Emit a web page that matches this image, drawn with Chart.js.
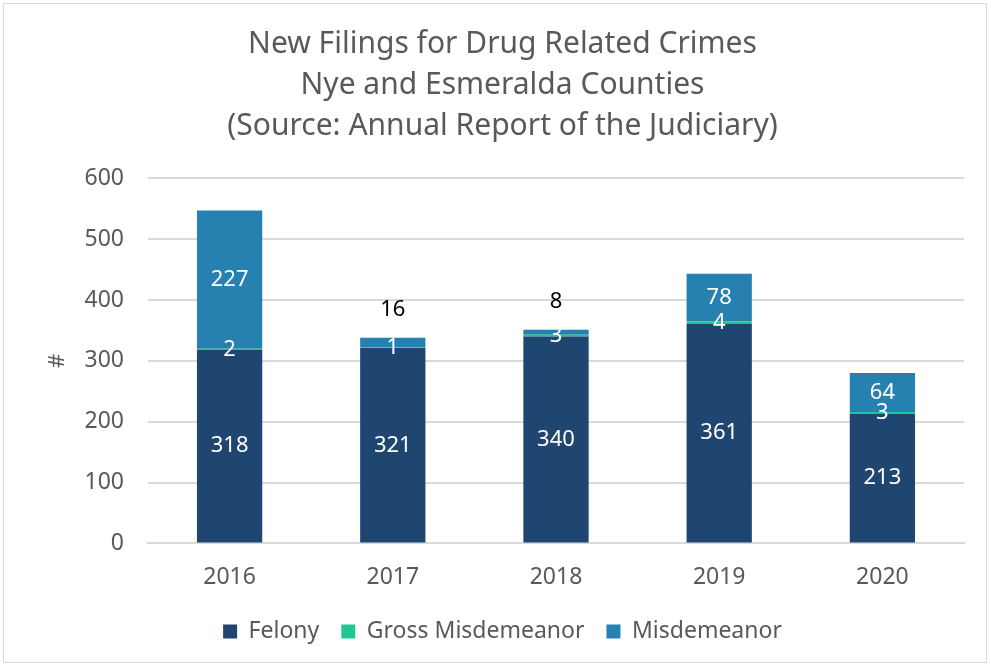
<!DOCTYPE html>
<html>
<head>
<meta charset="utf-8">
<script src="https://cdn.jsdelivr.net/npm/chart.js@4.4.0/dist/chart.umd.min.js"></script>
<style>
  html, body { margin: 0; padding: 0; background: #ffffff; }
  #wrap { position: absolute; left: 3px; top: 3px; width: 984px; height: 660px; border: 1px solid #d9d9d9; box-sizing: border-box; background: #fff; }
  canvas { display: block; }
</style>
</head>
<body>
<div id="wrap"><canvas id="c"></canvas></div>
<script>
const categories = ["2016", "2017", "2018", "2019", "2020"];
const felony = [318, 321, 340, 361, 213];
const grossMisdemeanor = [2, 1, 3, 4, 3];
const misdemeanor = [227, 16, 8, 78, 64];
const yTicks = [0, 100, 200, 300, 400, 500, 600];
const titleLines = ["New Filings for Drug Related Crimes", "Nye and Esmeralda Counties", "(Source: Annual Report of the Judiciary)"];

const FONT = "'Noto Sans', 'Open Sans', sans-serif";

const labelPlugin = {
  id: 'segLabels',
  afterDatasetsDraw(chart) {
    const ctx = chart.ctx;
    ctx.save();
    ctx.font = "22px " + FONT;
    ctx.textAlign = 'center';
    ctx.textBaseline = 'middle';
    chart.data.datasets.forEach((ds, di) => {
      const meta = chart.getDatasetMeta(di);
      meta.data.forEach((bar, i) => {
        const v = ds.data[i];
        const top = Math.min(bar.y, bar.base);
        const h = Math.abs(bar.base - bar.y);
        let x = bar.x, y = (bar.y + bar.base) / 2, color = '#ffffff';
        if (di === 2 && h < 24) {
          y = top - 28;
          color = '#000000';
        }
        ctx.fillStyle = color;
        ctx.fillText(String(v), x, y);
      });
    });
    ctx.restore();
  }
};

new Chart(document.getElementById('c'), {
  type: 'bar',
  data: {
    labels: categories,
    datasets: [
      { label: 'Felony', data: felony, backgroundColor: '#1f4670', borderWidth: 0 },
      { label: 'Gross Misdemeanor', data: grossMisdemeanor, backgroundColor: '#21c693', borderWidth: 0 },
      { label: 'Misdemeanor', data: misdemeanor, backgroundColor: '#2680b0', borderWidth: 0 }
    ]
  },
  options: {
    responsive: true,
    maintainAspectRatio: false,
    animation: false,
    layout: { padding: { left: 37, right: 22, top: 20, bottom: 9 } },
    datasets: { bar: { categoryPercentage: 0.4, barPercentage: 1.0 } },
    scales: {
      x: {
        stacked: true,
        grid: { display: false },
        border: { display: true, color: '#d9d9d9', width: 2 },
        ticks: { color: '#595959', font: { family: FONT, size: 23 }, padding: 12 },
        afterFit(axis) { axis.height -= 5; }
      },
      y: {
        stacked: true,
        min: 0, max: 600,
        afterBuildTicks(axis) { axis.ticks = yTicks.map(v => ({ value: v })); },
        grid: { color: '#d9d9d9', lineWidth: 2, drawTicks: false },
        border: { display: false },
        ticks: { color: '#595959', font: { family: FONT, size: 23 }, padding: 24 },
        title: { display: true, text: '#', color: '#595959', font: { family: FONT, size: 22 }, padding: { bottom: 12 } },
        afterFit(axis) { axis.width = 107; }
      }
    },
    plugins: {
      title: {
        display: true,
        text: titleLines,
        color: '#595959',
        font: { family: FONT, size: 30, weight: 'normal', lineHeight: 1.37 },
        padding: { top: 0, bottom: 31 }
      },
      legend: {
        position: 'bottom',
        labels: {
          color: '#595959',
          font: { family: FONT, size: 23 },
          boxWidth: 14, boxHeight: 14,
          padding: 22
        }
      },
      tooltip: { enabled: false }
    }
  },
  plugins: [labelPlugin]
});
</script>
</body>
</html>
